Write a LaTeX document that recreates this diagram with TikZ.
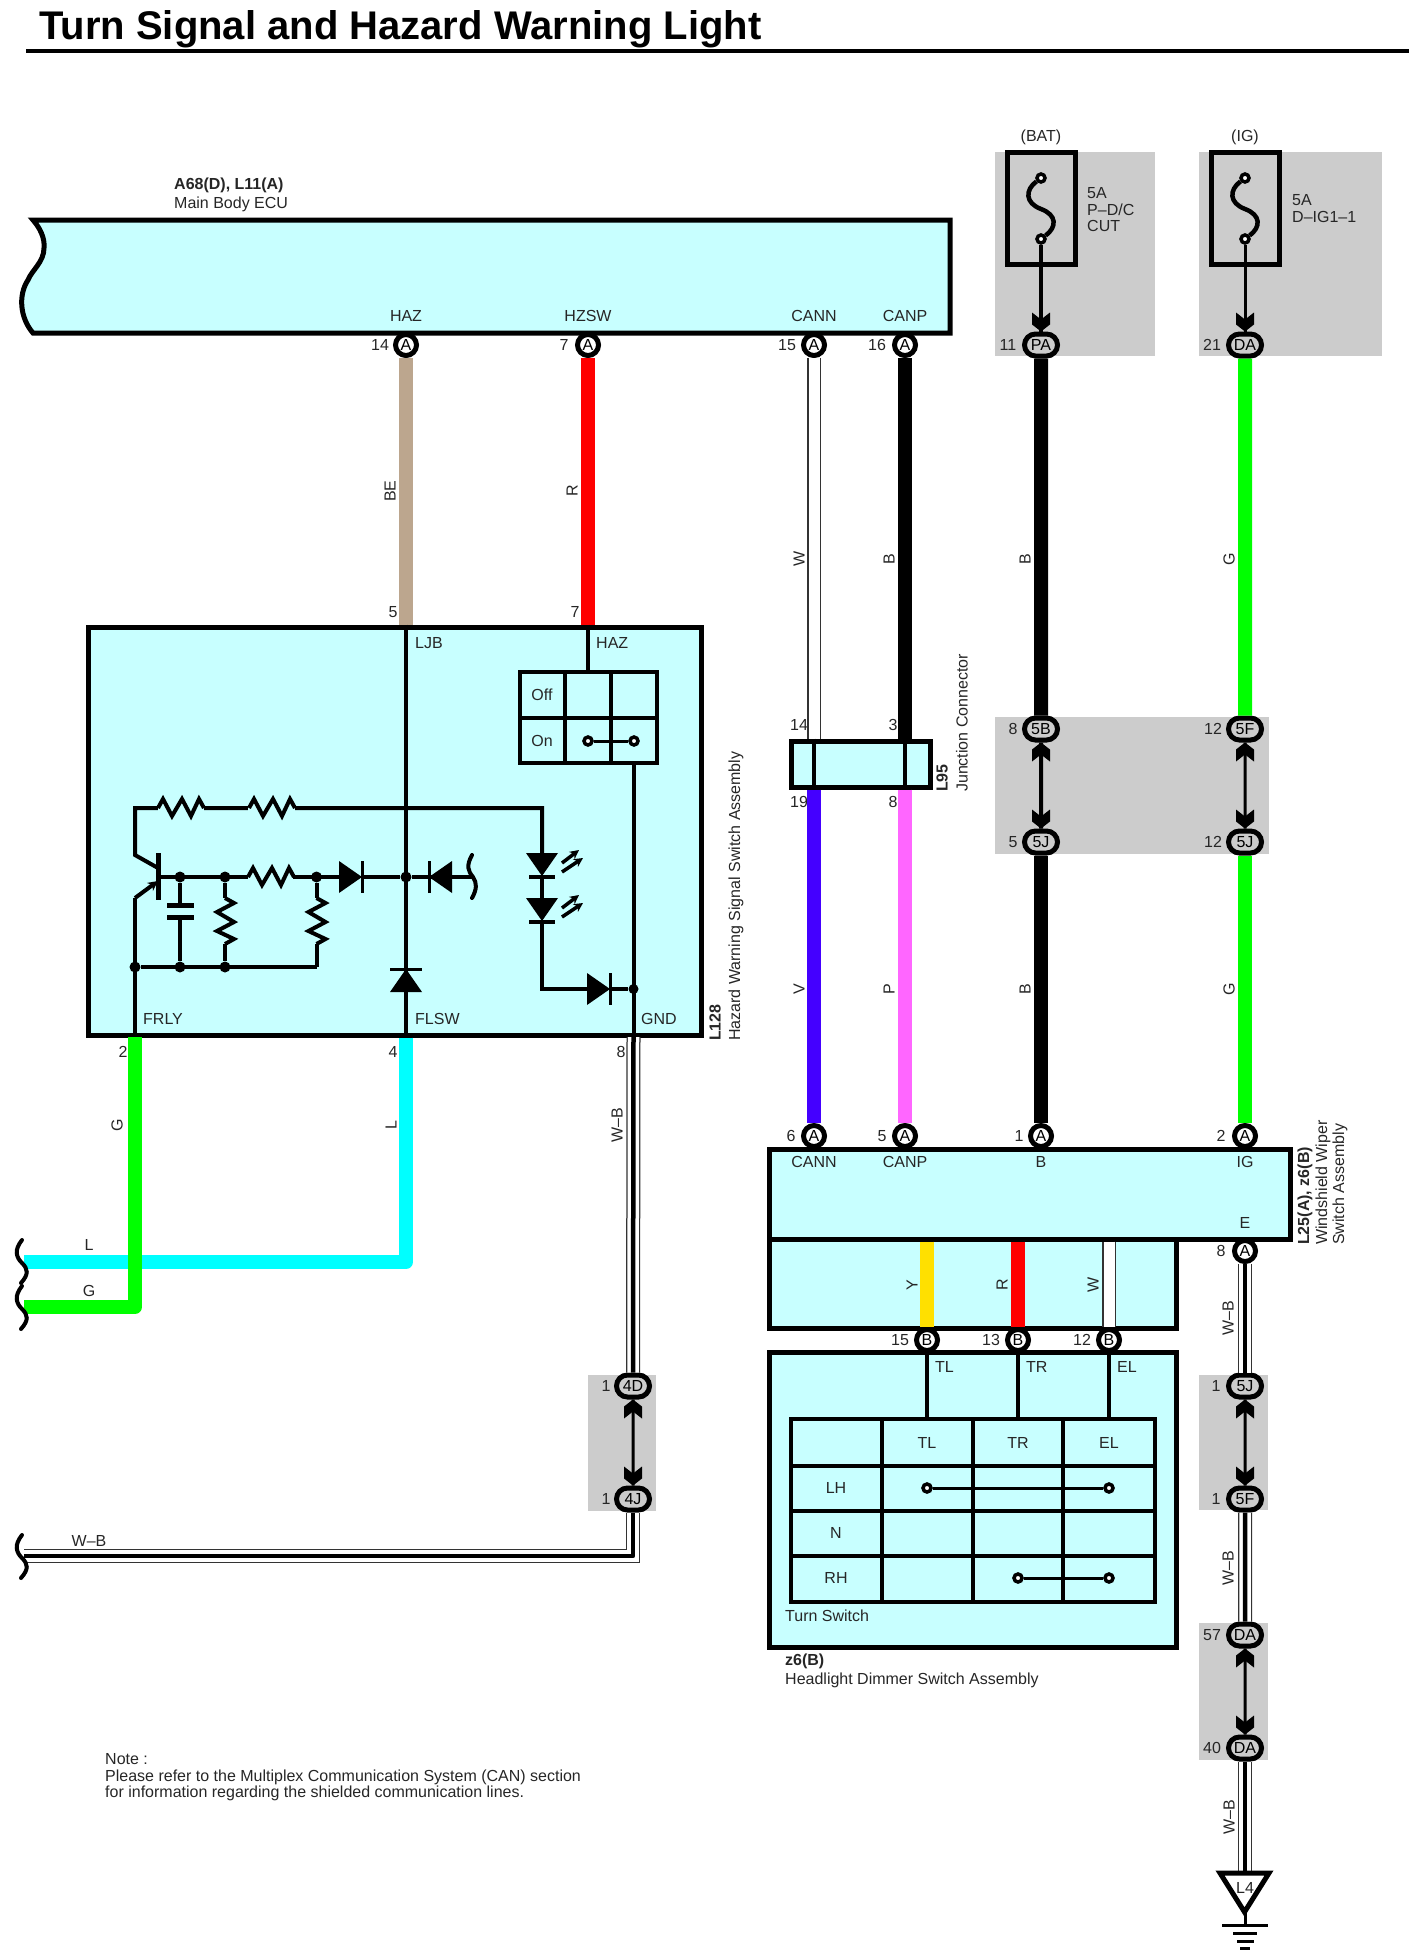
\documentclass[tikz,border=0pt]{standalone}
\usepackage{fontspec}
\setmainfont{Liberation Sans}
\usetikzlibrary{arrows.meta,shapes.misc}
\definecolor{panel}{RGB}{200,255,255}
\definecolor{greyzone}{RGB}{204,204,204}
\definecolor{wireBE}{RGB}{188,166,142}
\definecolor{wireV}{RGB}{68,0,255}
\definecolor{wireP}{RGB}{255,102,255}
\definecolor{wireY}{RGB}{255,224,0}
\definecolor{wireL}{RGB}{0,255,255}
\definecolor{wireG}{RGB}{0,255,0}
\begin{document}
\begin{tikzpicture}[x=1pt,y=-1pt]

    \tikzset{
      lbl/.style={inner sep=0pt,font=\fontsize{16}{16}\selectfont,text=black!85},
      lblv/.style={lbl,rotate=90},
      tag/.style={lbl,anchor=west},
      tagv/.style={lbl,rotate=90,anchor=west},
      head/.style={tag,font=\fontsize{16}{16}\selectfont\bfseries},
      headv/.style={tagv,font=\fontsize{16}{16}\selectfont\bfseries},
      box/.style={draw,fill=panel,line width=5pt,inner sep=0pt},
      cline/.style={line width=4pt},
      link/.style={line width=4pt},
      zone/.style={fill=greyzone},
      pinround/.style={lbl,circle,draw=black,fill=white,line width=5pt,minimum size=21pt,text=black},
      pinoval/.style={lbl,rounded rectangle,draw=black,fill=greyzone,line width=5pt,minimum width=33pt,minimum height=22pt,text=black},
      contact/.style={circle,draw,fill=white,line width=3.5pt,inner sep=0pt,minimum size=8pt},
      jdot/.style={circle,fill,inner sep=0pt,minimum size=11pt},
      wire/.style={line width=14pt,line join=round},
      wirew/.style={line width=11pt,draw=white,line join=round,preaction={draw=black!80,line width=14pt}},
      wirewb/.style={line width=4.5pt,draw=black,line join=round,
        preaction={draw=black!80,line width=14pt},preaction={draw=white,line width=11.5pt}},
      squig/.style={line width=4pt,line cap=round},
      pics/chev/.style={code={\fill (-9,-19)--(0,-12)--(9,-19)--(9,-7)--(0,0)--(-9,-7)--cycle;}},
      pics/resist/.style={code={\draw[cline,line join=miter] (0,0)--(5,-9)--(14,8)--(24,-9)--(33,8)--(41,-9)--(46,0);}},
      pics/diode/.style={code={\fill (0,-16)--(0,16)--(23,0)--cycle;\draw[line width=3pt] (23,-16)--(23,16);}},
      pics/led/.style={code={\fill (-16,0)--(16,0)--(0,23)--cycle;\draw[cline] (-13,24)--(13,24);
        \draw[line width=3.5pt,-{Stealth[length=9pt,width=9pt]}] (20,10)--(37,-3);
        \draw[line width=3.5pt,-{Stealth[length=9pt,width=9pt]}] (20,19)--(41,5);}},
    }
    \useasboundingbox (0,0) rectangle (1419,1960);

    % title
    \node[anchor=base west,inner sep=0pt,font=\fontsize{40}{40}\selectfont\bfseries] (title) at (39,39) {Turn Signal and Hazard Warning Light};
    \draw[line width=4pt] (26,51)--(1409,51);

    % grey zones
    \fill[zone] (995,152) rectangle (1155,356);
    \fill[zone] (1199,152) rectangle (1382,356);
    \fill[zone] (995,717) rectangle (1269,854);
    \fill[zone] (588,1375) rectangle (656,1511);
    \fill[zone] (1199,1375) rectangle (1268,1510);
    \fill[zone] (1199,1623) rectangle (1268,1760);

    % main body ecu
    \draw[box] (33,220)--(950,220)--(950,333)--(33,333) .. controls (20,318) and (18,295) .. (28,280) .. controls (32,270) and (44,262) .. (44,248) .. controls (45,238) and (40,228) .. (33,220) -- cycle;
    \node[head] (ecuid) at (174,185) {A68(D), L11(A)};
    \node[tag] (ecuname) at (174,204) {Main Body ECU};
    \foreach \xp/\txt [count=\i] in {406/HAZ,588/HZSW,814/CANN,905/CANP}
      \node[lbl] (ecu\i) at (\xp,316) {\txt};

    % boxes
    \node[box,minimum width=612.5pt,minimum height=408pt] (hazsw) at (394.75,831) {};
    \node[box,minimum width=139pt,minimum height=46pt] (jc) at (860.5,764) {};
    \draw[box] (769,1239)--(769,1328)--(1176,1328)--(1176,1239);
    \node[box,minimum width=521pt,minimum height=90pt] (wiper) at (1029.5,1194) {};
    \node[box,minimum width=407pt,minimum height=295pt] (dimmer) at (972.5,1499.5) {};

    % pins
    \foreach \xp/\yp/\nm/\txt in {406/345/p14/A,588/345/p7/A,814/345/p15/A,905/345/p16/A,
      814/1136/q6/A,905/1136/q5/A,1041/1136/q1/A,1245/1136/q2/A,1245/1251/q8/A,
      927/1340/b15/B,1018/1340/b13/B,1109/1340/b12/B}
      \node[pinround] (\nm) at (\xp,\yp) {\txt};
    \foreach \xp/\yp/\nm/\txt in {1041/345/pa/PA,1245/345/da/DA,1041/729/fb/5B,1041/842/jb/5J,
      1245/729/ff/5F,1245/842/jf/5J,633/1386/d4/4D,633/1499/j4/4J,
      1245/1386/j5/5J,1245/1499/f5/5F,1245/1635/da57/DA,1245/1748/da40/DA}
      \node[pinoval] (\nm) at (\xp,\yp) {\txt};

    % pin numbers
    \foreach \xp/\yp/\txt [count=\i] in {380/345/14,564/345/7,787/345/15,877/345/16,1008/345/11,1212/345/21,
      393/612/5,575/612/7,123/1052/2,393/1052/4,621/1052/8,799/725/14,893/725/3,799/802/19,893/802/8,
      1013/729/8,1013/842/5,1213/729/12,1213/842/12,791/1136/6,882/1136/5,1019/1136/1,1221/1136/2,1221/1251/8,
      900/1340/15,991/1340/13,1082/1340/12,606/1386/1,606/1499/1,1216/1386/1,1216/1499/1,1212/1635/57,1212/1748/40}
      \node[lbl] (num\i) at (\xp,\yp) {\txt};

    % wires
    \draw[wire,wireBE] (p14)--(p14 |- hazsw.north);
    \draw[wire,red] (p7)--(p7 |- hazsw.north);
    \draw[wirew] (p15)--(p15 |- jc.north);
    \draw[wire] (p16)--(p16 |- jc.north);
    \draw[wire] (pa)--(fb);
    \draw[wire,wireG] (da)--(ff);
    \draw[wire,wireV] (p15 |- jc.south)--(q6);
    \draw[wire,wireP] (p16 |- jc.south)--(q5);
    \draw[wire] (jb)--(q1);
    \draw[wire,wireG] (jf)--(q2);
    \draw[wire,wireY] (b15 |- wiper.south)--(b15);
    \draw[wire,red] (b13 |- wiper.south)--(b13);
    \draw[wirew] (b12 |- wiper.south)--(b12);
    \draw[wirewb] (q8)--(j5);
    \draw[wirewb] (f5)--(da57);
    \coordinate (gndtop) at (1245,1873);
    \draw[wirewb] (da40)--(gndtop);
    \coordinate (lend) at (24,1262);
    \coordinate (gend) at (24,1307);
    \coordinate (wbend) at (24,1556);
    \draw[wire,wireL] (p14 |- hazsw.south)--(406,1262)--(lend);
    \draw[wire,wireG] (135,1037)--(135,1307)--(gend);
    \draw[wirewb] (633.5,1037)--(d4);
    \draw[wirewb] (j4)--(633,1556)--(wbend);

    % break marks
    \foreach \yb in {1240,1286,1535}
      \draw[squig] (22,\yb) .. controls (14,\yb+10) and (16,\yb+17) .. (22,\yb+23) .. controls (28,\yb+29) and (29,\yb+34) .. (21,\yb+43);

    % wire colour letters
    \foreach \xp/\yp/\txt [count=\i] in {390/491/BE,572/491/R,799/559/W,889/559/B,1025/559/B,1229/559/G,
      799/989/V,889/989/P,1025/989/B,1229/989/G,117/1125/G,391/1125/L,617/1125/W--B,
      912/1285/Y,1002/1285/R,1093/1285/W,1228/1318/W--B,1228/1568/W--B,1229/1817/W--B}
      \node[lblv] (col\i) at (\xp,\yp) {\txt};
    \node[lbl] (colL) at (89,1245) {L};
    \node[lbl] (colG) at (89,1291) {G};
    \node[lbl] (colWB) at (89,1541) {W--B};

    % fuses
    \foreach \nm/\xp in {1/1041,2/1245} {
      \node[draw,line width=5pt,minimum width=68pt,minimum height=112pt,inner sep=0pt] (fuse\nm) at (\xp,208.5) {};
      \node[contact] (fa\nm) at (\xp,178) {};
      \node[contact] (fc\nm) at (\xp,239) {};
      \draw[line width=4.5pt] (fa\nm) .. controls (\xp-16,190) and (\xp-16,203) .. (\xp,209) .. controls (\xp+16,215) and (\xp+16,227) .. (fc\nm);
    }
    \draw[link] (fc1)--(pa);
    \draw[link,line width=3pt] (fc2)--(da);
    \node[lbl] (bat) at (1041,137) {(BAT)};
    \node[lbl] (ign) at (1245,137) {(IG)};
    \node[tag] (fa1a) at (1087,193) {5A};
    \node[tag] (fa1b) at (1087,210) {P--D/C};
    \node[tag] (fa1c) at (1087,226) {CUT};
    \node[tag] (fa2a) at (1292,200) {5A};
    \node[tag] (fa2b) at (1292,217) {D--IG1--1};

    % junction links
    \draw[link] (fb)--(jb);
    \draw[link,line width=3pt] (ff)--(jf);
    \draw[link,line width=3pt] (d4)--(j4);
    \draw[link,line width=3pt] (j5)--(f5);
    \draw[link,line width=3pt] (da57)--(da40);
    \pic at (pa.north) {chev};
    \pic at (da.north) {chev};
    \foreach \up/\dn in {fb/jb,ff/jf,d4/j4,j5/f5,da57/da40} {
      \pic[rotate=180] at (\up.south) {chev};
      \pic at (\dn.north) {chev};
    }

    % junction connector
    \draw[cline] (p15 |- jc.north)--(p15 |- jc.south);
    \draw[cline] (p16 |- jc.north)--(p16 |- jc.south);
    \node[headv] (jcid) at (942,792) {L95};
    \node[tagv] (jcname) at (962,792) {Junction Connector};

    % hazard switch assembly
    \node[tag] (ljb) at (415,643) {LJB};
    \node[tag] (hazlbl) at (596,643) {HAZ};
    \node[tag] (frly) at (143,1019) {FRLY};
    \node[tag] (flsw) at (415,1019) {FLSW};
    \node[tag] (gnd) at (641,1019) {GND};
    \node[headv] (hazid) at (715,1041) {L128};
    \node[tagv] (hazname) at (736,1041) {Hazard Warning Signal Switch Assembly};
    \node[draw,line width=4.5pt,minimum width=137pt,minimum height=91pt,inner sep=0pt] (hazbtn) at (588.5,717.5) {};
    \draw[cline] (520,718)--(657,718);
    \draw[cline] (565,672)--(565,763);
    \draw[cline] (611,672)--(611,763);
    \node[lbl] (off) at (542,695) {Off};
    \node[lbl] (on) at (542,741) {On};
    \node[contact] (onl) at (588,741) {};
    \node[contact] (onr) at (634,741) {};
    \draw[line width=3pt] (onl)--(onr);
    \draw[cline] (p14 |- hazsw.north)--(p14 |- hazsw.south);
    \draw[cline] (p7 |- hazsw.north)--(p7 |- hazbtn.north);
    \draw[cline] (633.5,763)--(633.5,1035);

    \node[jdot] (d1) at (180,877) {};
    \node[jdot] (d2) at (225,877) {};
    \node[jdot] (d3) at (316.5,877) {};
    \node[jdot] (d4c) at (406,877) {};
    \node[jdot] (d5) at (135,967) {};
    \node[jdot] (d6) at (180,967) {};
    \node[jdot] (d7) at (225,967) {};
    \node[jdot,minimum size=10pt] (d8) at (633.5,989) {};

    % collector side
    \draw[cline,line join=miter] (542,853)--(542,808)--(135,808)--(135,855)--(158,868);
    \fill[panel] (158,800) rectangle (204,816);
    \fill[panel] (248,800) rectangle (295,816);
    \pic at (158,808) {resist};
    \pic at (249,808) {resist};
    % transistor
    \draw[line width=5pt] (158,853)--(158,900);
    \draw[cline,-{Stealth[length=10pt,width=10pt]}] (135,898)--(158,881);
    \draw[cline] (135,898)--(135,1035);
    \draw[cline] (158,877)--(d4c);
    \fill[panel] (248,866) rectangle (293,888);
    \pic at (248,877) {resist};
    \draw[cline] (d4c)--(473,877);
    \fill[panel] (339,866) rectangle (362,888);
    \pic at (339,877) {diode};
    \pic[rotate=180] at (452,877) {diode};
    \draw[squig] (472,855) .. controls (466,866) and (468,871) .. (473,877) .. controls (477,883) and (477,889) .. (472,898);
    % capacitor and resistors to ground rail
    \draw[cline] (d5)--(316.5,967);
    \draw[cline] (d1)--(180,905);
    \draw[line width=5pt] (167,905)--(194,905);
    \draw[line width=5pt] (167,917)--(194,917);
    \draw[cline] (180,917)--(d6);
    \draw[cline] (d2)--(225,898);
    \pic[rotate=-90] at (225,898) {resist};
    \draw[cline] (225,944)--(d7);
    \draw[cline] (d3)--(316.5,898);
    \pic[rotate=-90] at (316.5,898) {resist};
    \draw[cline] (316.5,944)--(316.5,967);
    % flasher diode
    \pic[rotate=90] at (406,992) {diode};
    % leds
    \pic at (542,853) {led};
    \draw[cline] (542,877)--(542,898);
    \pic at (542,898) {led};
    \draw[cline,line join=miter] (542,922)--(542,989)--(d8);
    \fill[panel] (587,975) rectangle (611,1004);
    \pic at (587,989) {diode};

    % wiper switch assembly
    \foreach \xp/\txt [count=\i] in {814/CANN,905/CANP,1041/B,1245/IG}
      \node[lbl] (wip\i) at (\xp,1162) {\txt};
    \node[lbl] (wipe) at (1245,1223) {E};
    \node[headv] (wipid) at (1305,1245) {L25(A), z6(B)};
    \node[tagv] (wipa) at (1323,1245) {Windshield Wiper};
    \node[tagv] (wipb) at (1340,1245) {Switch Assembly};

    % turn switch
    \node[draw,line width=4pt,minimum width=364pt,minimum height=183pt,inner sep=0pt] (turntbl) at (973,1510.5) {};
    \foreach \yr in {1466,1511,1556}
      \draw[cline] (791,\yr)--(1155,\yr);
    \foreach \xc in {882,973,1063}
      \draw[cline] (\xc,1419)--(\xc,1602);
    \draw[cline] (b15)--(b15 |- turntbl.north);
    \draw[cline] (b13)--(b13 |- turntbl.north);
    \draw[cline] (b12)--(b12 |- turntbl.north);
    \foreach \xp/\txt [count=\i] in {935/TL,1026/TR,1117/EL}
      \node[tag] (tsw\i) at (\xp,1367) {\txt};
    \foreach \xp/\txt [count=\i] in {927/TL,1018/TR,1109/EL}
      \node[lbl] (thd\i) at (\xp,1443) {\txt};
    \foreach \yp/\txt [count=\i] in {1488/LH,1533/N,1578/RH}
      \node[lbl] (trw\i) at (836,\yp) {\txt};
    \node[contact] (lha) at (927,1488) {};
    \node[contact] (lhb) at (1109,1488) {};
    \draw[line width=3pt] (lha)--(lhb);
    \node[contact] (rha) at (1018,1578) {};
    \node[contact] (rhb) at (1109,1578) {};
    \draw[line width=3pt] (rha)--(rhb);
    \node[tag] (tswname) at (785,1616) {Turn Switch};
    \node[head] (dimid) at (785,1661) {z6(B)};
    \node[tag] (dimname) at (785,1680) {Headlight Dimmer Switch Assembly};

    % ground
    \draw[line width=5pt,fill=white] (1220,1873)--(1269,1873)--(1244.5,1912)--cycle;
    \node[lbl] (l4) at (1245,1888) {L4};
    \draw[line width=3pt] (1245,1912)--(1245,1925);
    \draw[line width=3pt] (1222,1925)--(1268,1925);
    \draw[line width=3pt] (1233,1933)--(1257,1933);
    \draw[line width=3pt] (1237,1941)--(1254,1941);
    \draw[line width=3pt] (1240,1948)--(1250,1948);

    % note
    \node[tag] (note1) at (105,1759) {Note :};
    \node[tag] (note2) at (105,1777) {Please refer to the Multiplex Communication System (CAN) section};
    \node[tag] (note3) at (105,1793) {for information regarding the shielded communication lines.};

\end{tikzpicture}
\end{document}
